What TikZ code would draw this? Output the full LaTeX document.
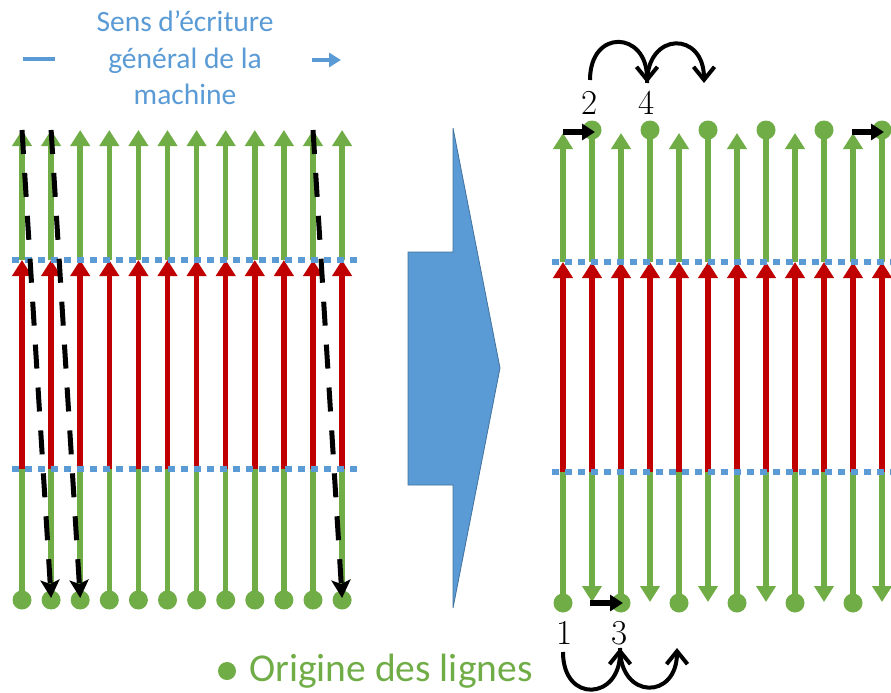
\documentclass[tikz,border=0pt]{standalone}
\usepackage{fontspec}
\newfontfamily\calibri{Carlito}
\usetikzlibrary{arrows.meta}
\definecolor{vert}{HTML}{70AD47}
\definecolor{rouge}{HTML}{C00000}
\definecolor{bleu}{HTML}{5B9BD5}
\definecolor{bleufonce}{HTML}{41719C}
\tikzset{
  ligne/.style={line width=5.5pt},
  tete/.style={-{Triangle[length=16pt,width=19pt]}},
  pointille/.style={bleu,line width=5.5pt,dash pattern=on 7pt off 6pt},
  trajet/.style={line width=5pt,dash pattern=on 24pt off 19pt,-{Stealth[length=18pt,width=19pt,inset=4pt]}},
  saut/.style={line width=4pt,-{Straight Barb[length=13pt,width=21pt]}},
  decal/.style={line width=5.5pt,-{Triangle[length=13pt,width=16pt]}},
  chiffre/.style={font=\fontsize{35}{40}\selectfont,inner sep=0pt},
}
\begin{document}
\begin{tikzpicture}[x=1pt,y=-1pt]
\useasboundingbox (0,0) rectangle (891,693);
% titre
\node[bleu,align=center,font=\calibri\fontsize{29.5}{36.5}\selectfont] (titre) at (185,58) {Sens d’écriture\\général de la\\machine};
\draw[bleu,line width=4.5pt] (23,59) -- (55,59);
\draw[bleu,line width=4.5pt,-{Triangle[length=12pt,width=14pt]}] (312,60) -- (341,60);
% avant
\foreach \i in {0,...,11}{
  \pgfmathsetmacro\x{22+29.1*\i}
  \draw[vert,ligne] (\x,600) -- (\x,469);
  \draw[rouge,ligne,tete] (\x,469) -- (\x,260);
  \draw[vert,ligne,tete] (\x,260) -- (\x,130);
  \fill[vert] (\x,600) circle (9.5pt);
  \coordinate (h\i) at (\x,130);
  \coordinate (b\i) at (\x,598);
}
\draw[pointille] (12,260) -- (360,260);
\draw[pointille] (12,469) -- (360,469);
\draw[trajet] (h0) -- (b1);
\draw[trajet] (h1) -- (b2);
\draw[trajet] (h10) -- (b11);
% fleche
\draw[bleufonce,fill=bleu,line width=0.8pt] (408,252) -- (453,252) -- (453,128) -- (500,368) -- (453,608) -- (453,485) -- (408,485) -- cycle;
% apres
\foreach \j in {0,2,...,10}{
  \pgfmathsetmacro\x{563+29*\j}
  \draw[rouge,ligne,tete] (\x,472) -- (\x,262);
  \draw[vert,ligne,tete] (\x,262) -- (\x,133);
  \draw[vert,ligne] (\x,472) -- (\x,603);
  \fill[vert] (\x,603) circle (9.5pt);
}
\foreach \j in {1,3,...,11}{
  \pgfmathsetmacro\x{563+29*\j}
  \draw[rouge,ligne,tete] (\x,472) -- (\x,262);
  \draw[vert,ligne] (\x,262) -- (\x,130);
  \fill[vert] (\x,130) circle (9.5pt);
  \draw[vert,ligne,tete] (\x,472) -- (\x,602);
}
\draw[pointille] (552,262) -- (891,262);
\draw[pointille] (552,472) -- (891,472);
\coordinate (d1) at (563,132);
\coordinate (f1) at (595,132);
\coordinate (d2) at (852,132);
\coordinate (f2) at (884,132);
\coordinate (d3) at (590,603);
\coordinate (f3) at (623,603);
\draw[decal] (d1) -- (f1);
\draw[decal] (d2) -- (f2);
\draw[decal] (d3) -- (f3);
\node[chiffre] (n2) at (590,103) {2};
\node[chiffre] (n4) at (647,103) {4};
\node[chiffre] (n1) at (565,633) {1};
\node[chiffre] (n3) at (620,633) {3};
\coordinate (s1) at (590,80);
\coordinate (s2) at (647,83);
\coordinate (s3) at (704,83);
\draw[saut] (s1) .. controls +(0,-52) and +(0,-52) .. (s2);
\draw[saut] (s2) .. controls +(0,-52) and +(0,-52) .. (s3);
\coordinate (t1) at (563,652);
\coordinate (t2) at (620,648);
\coordinate (t3) at (677,648);
\draw[saut] (t1) .. controls +(0,52) and +(0,52) .. (t2);
\draw[saut] (t2) .. controls +(0,52) and +(0,52) .. (t3);
% legende
\fill[vert] (227,671) circle (9pt);
\node[vert,anchor=base west,inner sep=0pt,font=\calibri\fontsize{39.5}{47}\selectfont] (legende) at (249,681) {Origine des lignes};
\end{tikzpicture}
\end{document}
